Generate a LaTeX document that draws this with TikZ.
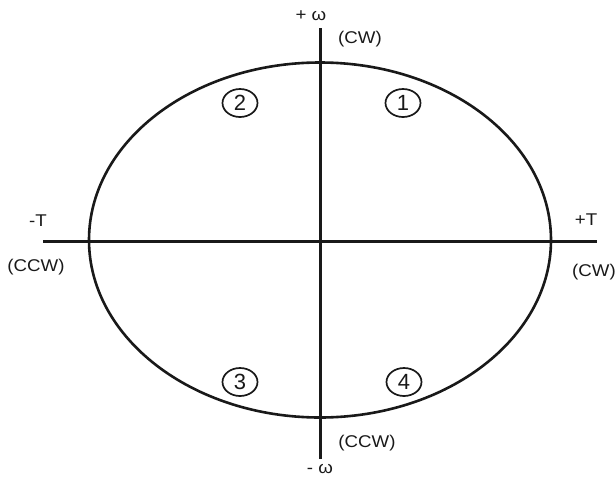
\documentclass[tikz,border=0pt]{standalone}
\usepackage{fontspec}
\setmainfont{Liberation Sans}
\usetikzlibrary{shapes.geometric}
\tikzset{
  axis/.style={line width=3pt, black!90},
  curve/.style={line width=2.6pt, black!90},
  lbl/.style={inner sep=0pt, font=\fontsize{17}{19}\selectfont, text=black!90},
  quad/.style={ellipse, draw, line width=1.7pt, black!90, minimum width=35pt, minimum height=28pt, inner sep=0pt, font=\fontsize{22}{24}\selectfont}
}
\newcommand{\widetxt}[1]{\scalebox{1.1}[1]{#1}}
\begin{document}
\begin{tikzpicture}[x=1pt,y=-1pt]
\useasboundingbox (0,0) rectangle (616,477);
\coordinate (xl) at (43,241);
\coordinate (xr) at (597,241);
\coordinate (yt) at (320,28);
\coordinate (yb) at (320,459);
\coordinate (c) at (320,240);
\draw[curve] (c) ellipse [x radius=231pt, y radius=177.5pt];
\draw[axis] (xl) -- (xr);
\draw[axis] (yt) -- (yb);
\node[lbl] (pw) at (311,16) {\widetxt{+ ω}};
\node[lbl] (cwt) at (360,39) {\widetxt{(CW)}};
\node[lbl] (mt) at (38,221) {\widetxt{-T}};
\node[lbl] (ccwl) at (36,267) {\widetxt{(CCW)}};
\node[lbl] (pt) at (586,220) {\widetxt{+T}};
\node[lbl] (cwr) at (594,272) {\widetxt{(CW)}};
\node[lbl] (ccwb) at (367,443) {\widetxt{(CCW)}};
\node[lbl] (mw) at (320,469) {\widetxt{- ω}};
\node[quad] (q2) at (240,103) {2};
\node[quad] (q1) at (403,103) {1};
\node[quad] (q3) at (240,382) {3};
\node[quad] (q4) at (404,382) {4};
\end{tikzpicture}
\end{document}
